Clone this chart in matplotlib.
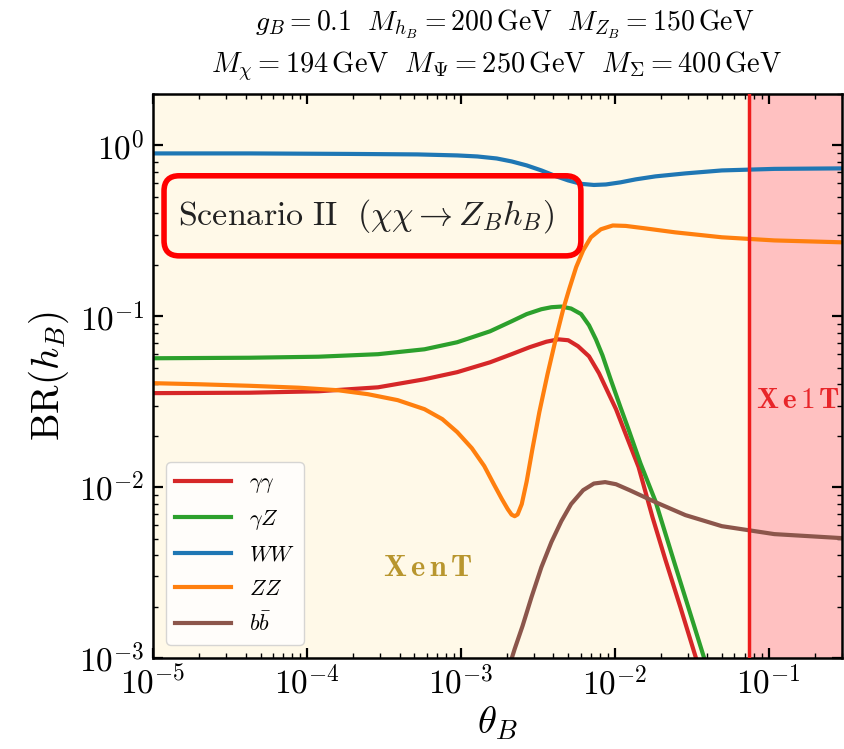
import matplotlib
matplotlib.use('Agg')
import matplotlib.pyplot as plt
import matplotlib.patches as mpatches

plt.rcParams['mathtext.fontset'] = 'cm'
plt.rcParams['font.family'] = 'serif'

# values (theta_B, BR)
theta_ww = [1e-5, 4.22e-5, 1.86e-4, 5.24e-4, 9.48e-4, 1.28e-3, 1.71e-3, 2.14e-3,
            2.68e-3, 3.34e-3, 4.18e-3, 4.99e-3, 6.05e-3, 7.33e-3, 8.77e-3,
            1.09e-2, 1.37e-2, 1.84e-2, 2.88e-2, 4.97e-2, 0.109, 0.3]
br_ww = [0.898, 0.898, 0.892, 0.886, 0.874, 0.862, 0.839, 0.806,
         0.764, 0.714, 0.659, 0.624, 0.596, 0.587, 0.591,
         0.608, 0.633, 0.659, 0.686, 0.714, 0.729, 0.734]

theta_zz = [1e-5, 2.01e-5, 4.22e-5, 8.85e-5, 1.60e-4, 2.49e-4, 3.89e-4, 5.81e-4,
            7.59e-4, 9.48e-4, 1.18e-3, 1.42e-3, 1.64e-3, 1.85e-3, 2.02e-3,
            2.14e-3, 2.24e-3, 2.34e-3, 2.49e-3, 2.68e-3, 2.92e-3, 3.24e-3,
            3.66e-3, 4.18e-3, 4.63e-3, 5.06e-3, 5.62e-3, 6.24e-3, 7.01e-3,
            8.13e-3, 9.72e-3, 1.18e-2, 1.58e-2, 2.47e-2, 4.97e-2, 0.109, 0.3]
br_zz = [0.0406, 0.0400, 0.0392, 0.0382, 0.0369, 0.0350, 0.0323, 0.0286,
         0.0250, 0.0210, 0.0169, 0.0133, 0.0104, 0.00851, 0.00743,
         0.00690, 0.00676, 0.00692, 0.00796, 0.0108, 0.0167, 0.0275,
         0.0458, 0.0764, 0.110, 0.144, 0.194, 0.243, 0.290,
         0.323, 0.340, 0.338, 0.327, 0.310, 0.290, 0.278, 0.271]

theta_gz = [1e-5, 4.22e-5, 1.19e-4, 2.90e-4, 5.81e-4, 9.48e-4, 1.55e-3, 2.14e-3,
            2.68e-3, 3.34e-3, 3.88e-3, 4.50e-3, 5.21e-3, 6.05e-3, 6.81e-3,
            7.55e-3, 8.33e-3, 9.41e-3, 1.09e-2, 1.23e-2, 1.47e-2, 1.84e-2,
            2.47e-2, 3.33e-2, 3.80e-2, 4.48e-2]
br_gz = [0.0568, 0.0572, 0.0580, 0.0600, 0.0641, 0.0705, 0.0817, 0.0935,
         0.103, 0.110, 0.113, 0.114, 0.111, 0.103, 0.0886,
         0.0733, 0.0591, 0.0428, 0.0294, 0.0218, 0.0138, 0.00828,
         0.00350, 0.00148, 0.00101, 0.00063]

theta_aa = [1e-5, 4.22e-5, 1.19e-4, 2.90e-4, 5.81e-4, 9.48e-4, 1.55e-3, 2.14e-3,
            2.80e-3, 3.60e-3, 4.31e-3, 4.99e-3, 5.78e-3, 6.81e-3, 7.91e-3,
            9.17e-3, 1.02e-2, 1.18e-2, 1.43e-2, 1.76e-2, 2.13e-2, 2.67e-2,
            3.33e-2, 3.98e-2]
br_aa = [0.0355, 0.0357, 0.0364, 0.0384, 0.0428, 0.0471, 0.0538, 0.0600,
         0.0659, 0.0710, 0.0733, 0.0724, 0.0668, 0.0583, 0.0464,
         0.0350, 0.0286, 0.0204, 0.0131, 0.00668, 0.00379, 0.00199,
         0.00104, 0.00062]

theta_bb = [1.99e-3, 2.24e-3, 2.52e-3, 2.88e-3, 3.34e-3, 3.88e-3, 4.50e-3,
            5.21e-3, 6.24e-3, 7.33e-3, 8.67e-3, 1.02e-2, 1.25e-2, 1.84e-2,
            2.88e-2, 4.97e-2, 0.109, 0.3]
br_bb = [0.000805, 0.00113, 0.00154, 0.00227, 0.00340, 0.00477, 0.00632,
         0.00796, 0.00960, 0.0105, 0.0107, 0.0104, 0.00960, 0.00817,
         0.00686, 0.00591, 0.00531, 0.00503]

xe1t_limit = 0.0743
x_range = [1e-5, 0.3]
y_range = [1e-3, 2.0]
x_ticks = [1e-5, 1e-4, 1e-3, 1e-2, 1e-1]
x_ticklabels = [r'$10^{-5}$', r'$10^{-4}$', r'$10^{-3}$', r'$10^{-2}$', r'$10^{-1}$']
y_ticks = [1e-3, 1e-2, 1e-1, 1e0]
y_ticklabels = [r'$10^{-3}$', r'$10^{-2}$', r'$10^{-1}$', r'$10^{0}$']

fig = plt.figure(figsize=(8.44, 7.49), dpi=100)
ax = fig.add_axes([153 / 844, 1 - 658 / 749, 689 / 844, 564 / 749])
ax.set_facecolor('#fff9e8')

ax.axvspan(xe1t_limit, x_range[1], color='#ffc1c1', lw=0, zorder=0)
ax.axvline(xe1t_limit, color='#ee1c1c', lw=2.5, zorder=3)

lw = 3
ax.plot(theta_aa, br_aa, color='#d62728', lw=lw, label=r'$\gamma\gamma$', zorder=2)
ax.plot(theta_gz, br_gz, color='#2ca02c', lw=lw, label=r'$\gamma Z$', zorder=2)
ax.plot(theta_ww, br_ww, color='#1f77b4', lw=lw, label=r'$WW$', zorder=2)
ax.plot(theta_zz, br_zz, color='#ff7f0e', lw=lw, label=r'$ZZ$', zorder=2)
ax.plot(theta_bb, br_bb, color='#8c564b', lw=lw, label=r'$b\bar{b}$', zorder=2)

ax.set_xscale('log')
ax.set_yscale('log')
ax.set_xlim(x_range)
ax.set_ylim(y_range)
ax.set_xticks(x_ticks)
ax.set_xticklabels(x_ticklabels)
ax.set_yticks(y_ticks)
ax.set_yticklabels(y_ticklabels)
ax.tick_params(which='both', direction='in', top=True, right=True)
ax.tick_params(which='major', length=7, width=1.6, labelsize=24, pad=6)
ax.tick_params(which='minor', length=3.5, width=1.0)
for s in ax.spines.values():
    s.set_linewidth(1.8)

ax.set_xlabel(r'$\theta_B$', fontsize=28, labelpad=2)
ax.set_ylabel(r'$\mathrm{BR}(h_B)$', fontsize=28, labelpad=6)

leg = ax.legend(loc='lower left', fontsize=16, handlelength=2.5,
                labelspacing=0.55, borderaxespad=0.6, fancybox=True,
                framealpha=0.8, edgecolor='#cccccc')

# scenario box
box = mpatches.FancyBboxPatch((0.016, 0.713), 0.605, 0.142,
                              boxstyle='round,pad=0,rounding_size=0.022',
                              mutation_aspect=689 / 564,
                              transform=ax.transAxes, facecolor='none',
                              edgecolor='#ff0000', lw=4, zorder=5)
ax.add_patch(box)
ax.text(0.036, 0.784, r'$\mathrm{Scenario\ II}\ \ (\chi\chi\to Z_B h_B)$',
        transform=ax.transAxes, fontsize=24.5, ha='left', va='center',
        color='#222222', zorder=6)

ax.text(0.399, 0.160, r'$\mathbf{X\,e\,n\,T}$', transform=ax.transAxes,
        fontsize=22, color='#b8962e', ha='center', va='center')
ax.text(0.936, 0.457, r'$\mathbf{X\,e\,1\,T}$', transform=ax.transAxes,
        fontsize=21, color='#e8262a', ha='center', va='center')

fig.text(505 / 844, 1 - 24 / 749,
         r'$g_B = 0.1\ \ M_{h_B} = 200\,\mathrm{GeV}\ \ M_{Z_B} = 150\,\mathrm{GeV}$',
         fontsize=20, ha='center', va='center')
fig.text(497 / 844, 1 - 66 / 749,
         r'$M_{\chi} = 194\,\mathrm{GeV}\ \ M_{\Psi} = 250\,\mathrm{GeV}\ \ M_{\Sigma} = 400\,\mathrm{GeV}$',
         fontsize=20.5, ha='center', va='center')

fig.savefig('out.png', dpi=100)
